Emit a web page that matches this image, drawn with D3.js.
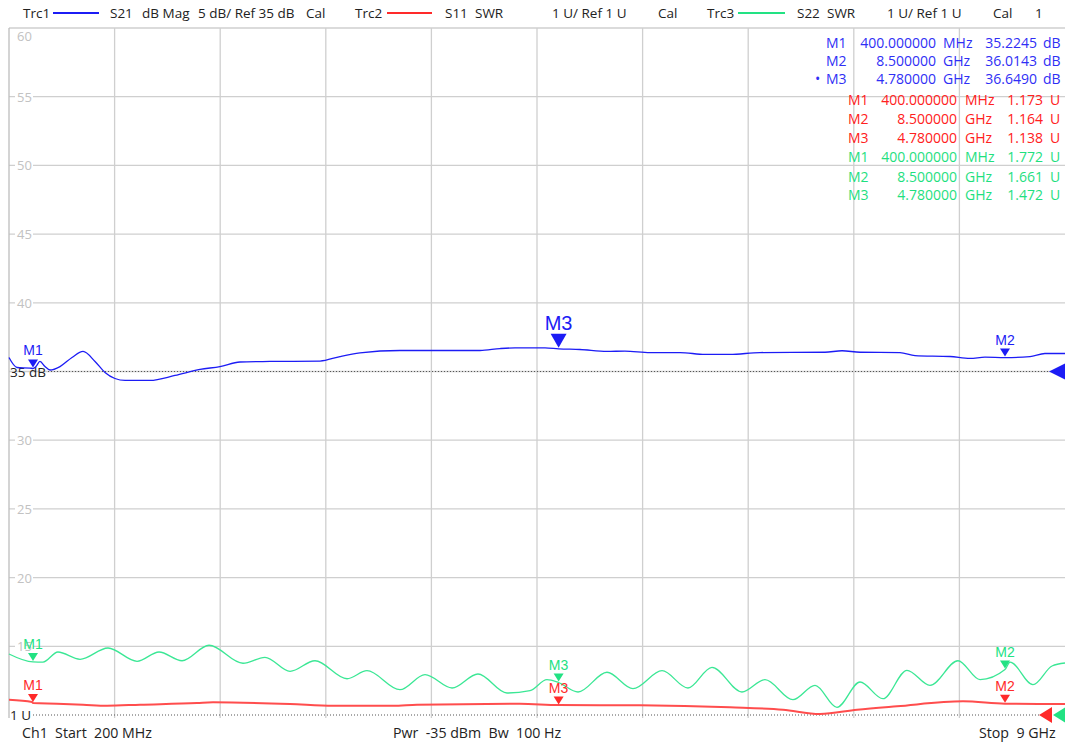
<!DOCTYPE html>
<html>
<head>
<meta charset="utf-8">
<script src="https://cdn.jsdelivr.net/npm/d3@7"></script>
<style>
  body { margin: 0; background: #fff; }
  text { font-family: "Open Sans", "Noto Sans", sans-serif; }
</style>
</head>
<body>
<div id="chart"></div>
<script>
// trace data, frequency in GHz
var s21Freq = [0.2, 0.267, 0.375, 0.4, 0.425, 0.458, 0.5, 0.542, 0.625, 0.725, 0.817, 0.917, 1.0, 1.083, 1.167, 1.375, 1.583, 1.792, 1.958, 2.125, 2.375, 2.792, 2.958, 3.125, 3.458, 3.875, 4.125, 4.292, 4.417, 4.667, 4.78, 4.958, 5.183, 5.333, 5.542, 5.792, 6.0, 6.208, 6.458, 7.0, 7.142, 7.292, 7.625, 7.75, 8.042, 8.208, 8.333, 8.5, 8.708, 8.833, 9.0];
var s21Db = [36.02, 35.29, 35.25, 35.22, 35.36, 35.73, 35.36, 35.11, 35.36, 36.02, 36.46, 35.73, 34.93, 34.49, 34.35, 34.35, 34.71, 35.15, 35.36, 35.69, 35.73, 35.76, 36.09, 36.35, 36.53, 36.53, 36.53, 36.67, 36.72, 36.72, 36.65, 36.6, 36.46, 36.49, 36.38, 36.38, 36.24, 36.24, 36.38, 36.4, 36.51, 36.4, 36.38, 36.16, 36.09, 35.95, 36.04, 36.01, 36.09, 36.31, 36.31];

var s11Freq = [0.2, 0.392, 0.4, 0.6, 0.817, 1.017, 1.292, 1.767, 1.9, 2.542, 2.9, 3.4, 3.6, 4.458, 4.78, 5.458, 6.208, 6.65, 6.958, 7.267, 7.6, 8.15, 8.5, 8.792, 9.0];
var s11Swr = [1.223, 1.189, 1.173, 1.164, 1.15, 1.135, 1.15, 1.175, 1.185, 1.16, 1.135, 1.135, 1.15, 1.164, 1.145, 1.141, 1.112, 1.077, 1.015, 1.077, 1.127, 1.199, 1.164, 1.16, 1.16];

var s22Freq = [0.2, 0.4, 0.442, 0.483, 0.608, 0.792, 1.025, 1.267, 1.45, 1.642, 1.867, 2.15, 2.333, 2.542, 2.75, 3.017, 3.183, 3.458, 3.667, 3.892, 4.108, 4.35, 4.542, 4.683, 4.78, 4.942, 5.183, 5.4, 5.642, 5.858, 6.058, 6.308, 6.5, 6.733, 6.917, 7.1, 7.292, 7.483, 7.683, 7.875, 8.108, 8.292, 8.5, 8.542, 8.733, 8.892, 9.0];
var s22Swr = [1.888, 1.772, 1.771, 1.771, 1.917, 1.811, 1.975, 1.782, 1.917, 1.79, 2.015, 1.753, 1.84, 1.636, 1.79, 1.528, 1.645, 1.368, 1.587, 1.393, 1.597, 1.32, 1.354, 1.514, 1.472, 1.335, 1.622, 1.383, 1.645, 1.393, 1.694, 1.335, 1.514, 1.223, 1.432, 1.112, 1.48, 1.237, 1.651, 1.432, 1.79, 1.514, 1.661, 1.771, 1.441, 1.713, 1.757];

// markers
var markerNames = ["M1", "M2", "M3"];
var markerFreqText = ["400.000000", "8.500000", "4.780000"];
var markerUnitText = ["MHz", "GHz", "GHz"];
var markerFreq = [0.4, 8.5, 4.78];
var s21Marker = [35.2245, 36.0143, 36.649];
var s11Marker = [1.173, 1.164, 1.138];
var s22Marker = [1.772, 1.661, 1.472];

var dbTicks = [60, 55, 50, 45, 40, 30, 25, 20, 15];

var blue = "#1c1cf5", red = "#ff2a2a", green = "#22e283";
var gridColor = "#cfcfcf", labelGray = "#c2c2c2";

var width = 1065, height = 744;
var x = d3.scaleLinear().domain([0.2, 9]).range([9, 1065]);
var yDb = d3.scaleLinear().domain([10, 60]).range([715, 28]);
var ySwr = d3.scaleLinear().domain([1, 11]).range([715, 28]);

var svg = d3.select("#chart").append("svg")
  .attr("width", width).attr("height", height);

// grid
var vDivs = d3.range(1, 10).map(function (i) { return 0.2 + i * 0.88; });
svg.append("g").selectAll("line").data(vDivs).enter().append("line")
  .attr("x1", function (d) { return x(d); }).attr("x2", function (d) { return x(d); })
  .attr("y1", 28).attr("y2", 718)
  .attr("stroke", gridColor).attr("stroke-width", 1.3);

var hDivs = [55, 50, 45, 40, 35, 30, 25, 20, 15];
svg.append("g").selectAll("line").data(hDivs).enter().append("line")
  .attr("x1", 9).attr("x2", 1065)
  .attr("y1", function (d) { return yDb(d); }).attr("y2", function (d) { return yDb(d); })
  .attr("stroke", gridColor).attr("stroke-width", 1.3);

// border
svg.append("line").attr("x1", 9).attr("x2", 1065).attr("y1", 28).attr("y2", 28)
  .attr("stroke", gridColor).attr("stroke-width", 1.3);
svg.append("line").attr("x1", 9).attr("x2", 9).attr("y1", 28).attr("y2", 718)
  .attr("stroke", "#bdbdbd").attr("stroke-width", 1.3);

// y labels (gap in grid behind them)
svg.append("g").selectAll("rect").data(dbTicks.filter(function (d) { return d != 60; }))
  .enter().append("rect")
  .attr("x", 15).attr("y", function (d) { return yDb(d) - 6; })
  .attr("width", 18).attr("height", 12).attr("fill", "#fff");
svg.append("g").selectAll("text").data(dbTicks).enter().append("text")
  .attr("x", 17)
  .attr("y", function (d) { return d == 60 ? 41 : yDb(d) + 5; })
  .attr("fill", labelGray).style("font-size", "13px")
  .text(function (d) { return d; });

// reference lines
svg.append("line").attr("x1", 48).attr("x2", 1050)
  .attr("y1", yDb(35)).attr("y2", yDb(35))
  .attr("stroke", "#555").attr("stroke-width", 1).attr("stroke-dasharray", "1,2");
svg.append("line").attr("x1", 33).attr("x2", 1040)
  .attr("y1", ySwr(1)).attr("y2", ySwr(1))
  .attr("stroke", "#555").attr("stroke-width", 1).attr("stroke-dasharray", "1,2");
svg.append("text").attr("x", 10).attr("y", yDb(35) + 5)
  .attr("fill", "#222").style("font-size", "13.5px").text("35 dB");
svg.append("text").attr("x", 10).attr("y", ySwr(1) + 5)
  .attr("fill", "#222").style("font-size", "13.5px").text("1 U");

// traces
function trace(freqs, vals, yScale, color, w, curve) {
  svg.append("path")
    .datum(d3.zip(freqs, vals))
    .attr("fill", "none")
    .attr("stroke", color)
    .attr("stroke-width", w)
    .attr("d", d3.line()
      .x(function (d) { return x(d[0]); })
      .y(function (d) { return yScale(d[1]); })
      .curve(curve));
}
trace(s11Freq, s11Swr, ySwr, "#ff4d4d", 2, d3.curveMonotoneX);
trace(s22Freq, s22Swr, ySwr, "#3be795", 1.3, d3.curveMonotoneX);
trace(s21Freq, s21Db, yDb, blue, 1.3, d3.curveMonotoneX);

// markers on traces
function marker(name, f, v, yScale, color, active) {
  var px = x(f), py = yScale(v) - 1;
  var w = active ? 8 : 5, h = active ? 14 : 8;
  svg.append("path")
    .attr("d", "M" + (px - w) + "," + (py - h) + "L" + (px + w) + "," + (py - h) + "L" + px + "," + py + "Z")
    .attr("fill", color);
  svg.append("text")
    .attr("x", px).attr("y", py - h - 4)
    .attr("text-anchor", "middle")
    .attr("fill", color)
    .style("font-family", "'Liberation Sans', Arial, sans-serif")
    .style("font-size", active ? "20px" : "14px")
    .text(name);
}
markerNames.forEach(function (m, i) {
  marker(m, markerFreq[i], s21Marker[i], yDb, blue, m == "M3");
  marker(m, markerFreq[i], s22Marker[i], ySwr, green, false);
  marker(m, markerFreq[i], s11Marker[i], ySwr, red, false);
});

// reference arrows on the right
function refArrow(tipX, baseX, yv, color) {
  svg.append("path")
    .attr("d", "M" + tipX + "," + yv + "L" + baseX + "," + (yv - 8) + "L" + baseX + "," + (yv + 8) + "Z")
    .attr("fill", color);
}
refArrow(1049, 1065, yDb(35), blue);
refArrow(1039, 1052, ySwr(1), red);
refArrow(1053, 1066, ySwr(1), green);

// header
var header = svg.append("g").style("font-size", "13.5px").attr("fill", "#222");
function htext(xp, t) { header.append("text").attr("x", xp).attr("y", 18).text(t); }
function hline(x1, x2, color) {
  svg.append("line").attr("x1", x1).attr("x2", x2).attr("y1", 13).attr("y2", 13)
    .attr("stroke", color).attr("stroke-width", 2);
}
htext(23, "Trc1"); hline(53, 99, blue);
htext(110, "S21"); htext(142, "dB Mag"); htext(198, "5 dB/ Ref 35 dB"); htext(306, "Cal");
htext(355, "Trc2"); hline(387, 432, red);
htext(445, "S11"); htext(475, "SWR"); htext(552, "1 U/ Ref 1 U"); htext(658, "Cal");
htext(707, "Trc3"); hline(738, 785, green);
htext(797, "S22"); htext(827, "SWR"); htext(887, "1 U/ Ref 1 U"); htext(993, "Cal"); htext(1035, "1");

// footer
var footer = svg.append("g").style("font-size", "14.2px").attr("fill", "#222");
footer.append("text").attr("x", 22).attr("y", 738).attr("xml:space", "preserve").text("Ch1  Start  200 MHz");
footer.append("text").attr("x", 393).attr("y", 738).attr("xml:space", "preserve").text("Pwr  -35 dBm  Bw  100 Hz");
footer.append("text").attr("x", 979).attr("y", 738).attr("xml:space", "preserve").text("Stop  9 GHz");

// marker readout table
var table = svg.append("g").style("font-size", "14px");
function row(base, color, cols, name, fText, uText, valText, unit) {
  var g = table.append("g").attr("fill", color);
  g.append("text").attr("x", cols[0]).attr("y", base).text(name);
  g.append("text").attr("x", cols[1]).attr("y", base).attr("text-anchor", "end").text(fText);
  g.append("text").attr("x", cols[2]).attr("y", base).text(uText);
  g.append("text").attr("x", cols[3]).attr("y", base).attr("text-anchor", "end").text(valText);
  g.append("text").attr("x", cols[4]).attr("y", base).text(unit);
}
var blueCols = [826, 936, 943, 1037, 1043];
var swrCols = [848, 957, 965, 1043, 1050];
var blueBase = [48, 66, 84], redBase = [105, 124, 143], greenBase = [162, 182, 200];
markerNames.forEach(function (m, i) {
  row(blueBase[i], "#2f2ff5", blueCols, m, markerFreqText[i], markerUnitText[i], s21Marker[i].toFixed(4), "dB");
  row(redBase[i], "#ff2020", swrCols, m, markerFreqText[i], markerUnitText[i], s11Marker[i].toFixed(3), "U");
  row(greenBase[i], "#1fe07f", swrCols, m, markerFreqText[i], markerUnitText[i], s22Marker[i].toFixed(3), "U");
});
table.append("text").attr("x", 815).attr("y", 84).attr("fill", "#2f2ff5").text("•");
</script>
</body>
</html>
